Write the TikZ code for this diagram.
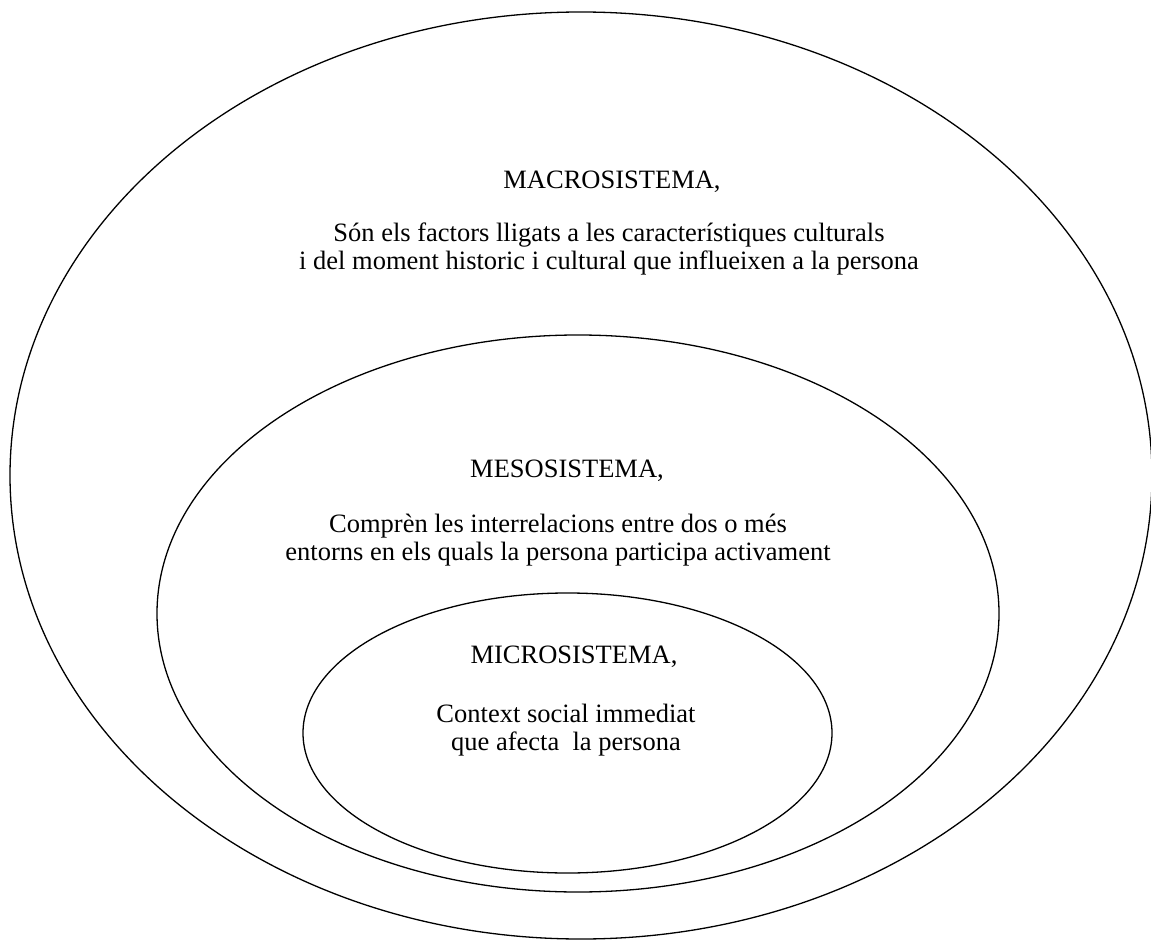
\documentclass[tikz,border=0pt]{standalone}
\usepackage{fontspec}
\setmainfont{Liberation Serif}
\begin{document}
\begin{tikzpicture}[x=1pt,y=-1pt,
  ring/.style={line width=1.3pt, black},
  label/.style={align=center, inner sep=0pt, font=\fontsize{26.5}{28}\selectfont}]
\useasboundingbox (0,0) rectangle (1151,941);
% nested system rings
\draw[ring] (581,475.5) ellipse [x radius=571, y radius=463.5];
\draw[ring] (578,613.5) ellipse [x radius=421, y radius=278.5];
\draw[ring] (567.5,733) ellipse [x radius=264.5, y radius=140];
% macro level
\node[label] (macrotitle) at (612,182) {MACROSISTEMA,};
\node[label] (macrobody) at (609,249) {Són els factors lligats a les característiques culturals\\i del moment historic i cultural que influeixen a la persona};
% meso level
\node[label] (mesotitle) at (567,471) {MESOSISTEMA,};
\node[label] (mesobody) at (558,540) {Comprèn les interrelacions entre dos o més\\entorns en els quals la persona participa activament};
% micro level
\node[label] (microtitle) at (574,657) {MICROSISTEMA,};
\node[label] (microbody) at (566,730) {Context social immediat\\que afecta\ \ la persona};
\end{tikzpicture}
\end{document}
